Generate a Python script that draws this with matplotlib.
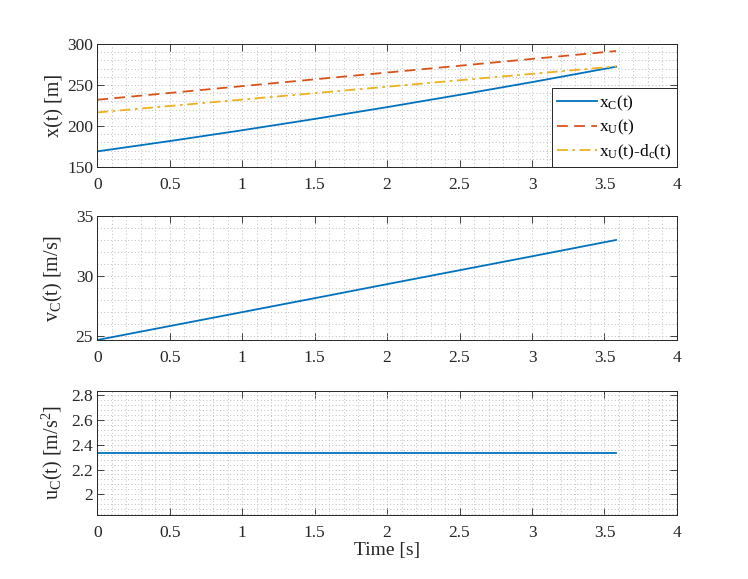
import numpy as np
import matplotlib
matplotlib.use('Agg')
from matplotlib import pyplot as plt
from matplotlib.ticker import MultipleLocator, FuncFormatter

# valores
t = [0.0, 0.5, 1.0, 1.5, 2.0, 2.5, 3.0, 3.58]
xC = [169.0, 181.6, 194.8, 208.6, 223.0, 238.0, 253.5, 272.3]
xU = [232.0, 240.3, 248.6, 256.9, 265.2, 273.5, 281.8, 291.4]
xU_dc = [216.5, 224.4, 232.2, 240.1, 247.9, 255.8, 263.6, 272.7]
vC = [24.67, 25.83, 26.99, 28.15, 29.32, 30.48, 31.64, 33.0]
uC = [2.333, 2.333, 2.333, 2.333, 2.333, 2.333, 2.333, 2.333]

azul = '#0072BD'
naranja = '#D95319'
amarillo = '#EDB120'
gris = '#262626'

plt.rcParams['font.family'] = ['Liberation Serif', 'DejaVu Serif']
plt.rcParams['mathtext.fontset'] = 'custom'
plt.rcParams['mathtext.rm'] = 'Liberation Serif'
plt.rcParams['mathtext.it'] = 'Liberation Serif:italic'
plt.rcParams['font.size'] = 10

fig = plt.figure(figsize=(7.48, 5.79), dpi=100)
ax1 = fig.add_axes([0.13, 0.7116, 0.775, 0.2124])
ax2 = fig.add_axes([0.13, 0.4128, 0.775, 0.2142])
ax3 = fig.add_axes([0.13, 0.1105, 0.775, 0.2142])

def estilo(ax, ymin, ymax, ymaj, ymin_step):
  ax.set_xlim(0, 4)
  ax.set_ylim(ymin, ymax)
  ax.xaxis.set_major_locator(MultipleLocator(0.5))
  ax.xaxis.set_minor_locator(MultipleLocator(0.1))
  ax.yaxis.set_major_locator(MultipleLocator(ymaj))
  ax.yaxis.set_minor_locator(MultipleLocator(ymin_step))
  ax.xaxis.set_major_formatter(FuncFormatter(lambda v, p: '%g' % v))
  ax.yaxis.set_major_formatter(FuncFormatter(lambda v, p: '%g' % round(v, 6)))
  ax.grid(which='both', color='#bdbdbd', linestyle=(0, (1, 2.5)), linewidth=0.7)
  ax.set_axisbelow(True)
  ax.tick_params(which='major', direction='in', top=True, right=True, length=5,
                 width=0.6, color=gris, labelcolor=gris, labelsize=12.5)
  ax.tick_params(axis='x', which='major', pad=7)
  ax.tick_params(axis='y', which='major', pad=3)
  ax.tick_params(which='minor', length=0, top=True, right=True)
  for s in ax.spines.values():
    s.set_color(gris)
    s.set_linewidth(0.7)

ax1.plot(t, xC, color=azul, lw=1.3, label=r'x$_\mathrm{C}$(t)')
ax1.plot(t, xU, color=naranja, lw=1.3, ls=(0, (6, 3.5)), label=r'x$_\mathrm{U}$(t)')
ax1.plot(t, xU_dc, color=amarillo, lw=1.3, ls=(0, (6, 2.5, 1.5, 2.5)),
         label=r'x$_\mathrm{U}$(t)-d$_\mathrm{c}$(t)')
estilo(ax1, 150, 300, 50, 10)
ax1.set_ylabel('x(t) [m]', fontsize=14.5, color=gris)
leg = ax1.legend(loc='lower right', bbox_to_anchor=(1, 0), borderaxespad=0,
                 fancybox=False, edgecolor=gris, fontsize=12.5, handlelength=2.3,
                 handletextpad=0.15, borderpad=0.3, labelspacing=0.3)
leg.get_frame().set_linewidth(0.7)
leg.get_frame().set_alpha(1)

ax2.plot(t, vC, color=azul, lw=1.3)
estilo(ax2, 24.67, 35, 5, 1)
ax2.set_ylabel(r'v$_\mathrm{C}$(t) [m/s]', fontsize=14.5, color=gris)

ax3.plot(t, uC, color=azul, lw=1.3)
estilo(ax3, 1.833, 2.833, 0.2, 0.04)
ax3.set_ylabel(r'u$_\mathrm{C}$(t) [m/s$^\mathrm{2}$]', fontsize=14.5, color=gris)
ax3.set_xlabel('Time [s]', fontsize=14, color=gris, labelpad=1)

for ax in (ax1, ax2, ax3):
  ax.yaxis.set_label_coords(-0.056, 0.5)

fig.savefig('out.png', dpi=100)
